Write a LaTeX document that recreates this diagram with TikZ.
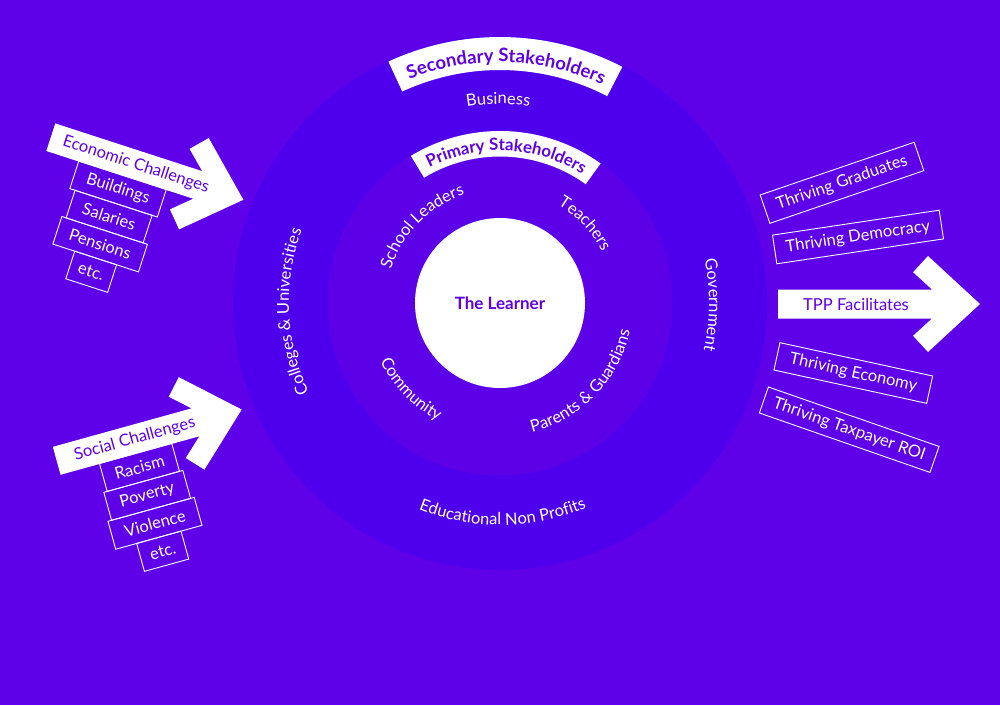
\documentclass[tikz,border=0pt]{standalone}
\usepackage{fontspec}
\setmainfont{Lato}
\usetikzlibrary{decorations.text,positioning}

\definecolor{bgviolet}{RGB}{94,0,232}
\definecolor{outerring}{RGB}{78,0,236}
\definecolor{innerring}{RGB}{91,0,231}
\newcommand{\ringlabel}{\fontsize{16.5}{18}\selectfont}
\newcommand{\bannerlabel}{\fontsize{18.5}{20}\selectfont\bfseries}
\newcommand{\primarylabel}{\fontsize{16.8}{18}\selectfont\bfseries}

\begin{document}
\begin{tikzpicture}[x=1pt, y=1pt,
            box/.style={draw=white, line width=0.9pt, text=white, font=\ringlabel, minimum height=29pt, inner xsep=3pt, inner ysep=0pt, outer sep=0pt},
            ringtext/.style={decorate, decoration={text along path, text align=center, text color=white, text={|\ringlabel|#1}}},
            bannertext/.style={decorate, decoration={text along path, text align=center, text color=bgviolet, text={#1}}}]
            \useasboundingbox (-500,-402) rectangle (500,303);
            \fill[bgviolet] (-500,-402) rectangle (500,303);
            \fill[outerring] (0,0) circle (267);
            \fill[innerring] (0,0) circle (172.5);
            \node[circle, fill=white, minimum size=170pt, inner sep=0pt, font=\fontsize{17}{19}\selectfont\bfseries, text=bgviolet] (learner) at (0,0) {The Learner};

            \fill[white] (62.6:233) arc[start angle=62.6, end angle=114.8, radius=233] -- (114.8:266) arc[start angle=114.8, end angle=62.6, radius=266] -- cycle;
            \fill[white] (54.2:146.5) arc[start angle=54.2, end angle=121.2, radius=146.5] -- (121.2:172) arc[start angle=121.2, end angle=54.2, radius=172] -- cycle;
            \path[bannertext={|\bannerlabel|Secondary Stakeholders}] (118:241) arc[start angle=118, end angle=59, radius=241];
            \path[bannertext={|\primarylabel|Primary Stakeholders}] (125:152.5) arc[start angle=125, end angle=50, radius=152.5];

            \path[ringtext={Business}] (110:199) arc[start angle=110, end angle=71, radius=199];
            \path[ringtext={Government}] (30:209) arc[start angle=30, end angle=-31, radius=209];
            \path[ringtext={Educational Non Profits}] (230:222) arc[start angle=230, end angle=311.4, radius=222];
            \path[ringtext={Colleges {\&} Universities}] (215:211) arc[start angle=215, end angle=150, radius=211];
            \path[ringtext={School Leaders}] (175:114) arc[start angle=175, end angle=96, radius=114];
            \path[ringtext={Teachers}] (80:114) arc[start angle=80, end angle=6, radius=114];
            \path[ringtext={Community}] (190:133) arc[start angle=190, end angle=258, radius=133];
            \path[ringtext={Parents {\&} Guardians}] (276:133) arc[start angle=276, end angle=356, radius=133];

            \begin{scope}[shift={(-449.2,165.8)}, rotate=-18, transform shape]
                \node[box, anchor=north, minimum width=92pt] (buildings) at (80,-14) {Buildings};
                \node[box, below=0pt of buildings, minimum width=81pt] (salaries) {Salaries};
                \node[box, below=0pt of salaries, minimum width=90pt] (pensions) {Pensions};
                \node[box, below=0pt of pensions, minimum width=44pt] (econetc) {etc.};
                \fill[white] (0,14.5) -- (154.5,14.5) -- (135.6,31.8) -- (150.5,48) -- (202.5,0) -- (150.5,-48) -- (135.6,-31.8) -- (154.5,-14.5) -- (0,-14.5) -- cycle;
                \node[font=\ringlabel, text=bgviolet] (econ) at (89.5,0) {Economic Challenges};
            \end{scope}

            \begin{scope}[shift={(-443.3,-157.8)}, rotate=15.5, transform shape]
                \node[box, anchor=north, minimum width=75pt] (racism) at (78,-14) {Racism};
                \node[box, below=0pt of racism, minimum width=82pt] (poverty) {Poverty};
                \node[box, below=0pt of poverty, minimum width=89.5pt] (violence) {Violence};
                \node[box, below=0pt of violence, minimum width=46pt] (socialetc) {etc.};
                \fill[white] (0,14.5) -- (144,14.5) -- (125.1,31.8) -- (140,48) -- (192,0) -- (140,-48) -- (125.1,-31.8) -- (144,-14.5) -- (0,-14.5) -- cycle;
                \node[font=\ringlabel, text=bgviolet] (social) at (81,0) {Social Challenges};
            \end{scope}

            \begin{scope}[shift={(278,-1)}]
                \fill[white] (0,14.5) -- (154,14.5) -- (135.1,31.8) -- (150,48) -- (202,0) -- (150,-48) -- (135.1,-31.8) -- (154,-14.5) -- (0,-14.5) -- cycle;
                \node[font=\ringlabel, text=bgviolet] (tpp) at (78,0) {TPP Facilitates};
            \end{scope}

            \node[box, rotate=18.9, minimum width=162.7pt, minimum height=30pt] (graduates) at (342,120.2) {Thriving Graduates};
            \node[box, rotate=8.5, minimum width=168.5pt] (democracy) at (358,66) {Thriving Democracy};
            \node[box, rotate=-12.3, minimum width=156.3pt, minimum height=28pt] (economy) at (353.3,-70) {Thriving Economy};
            \node[box, rotate=-19.2, minimum width=180.7pt, minimum height=27.5pt] (taxpayer) at (349.2,-126.7) {Thriving Taxpayer ROI};
        \end{tikzpicture}
\end{document}
